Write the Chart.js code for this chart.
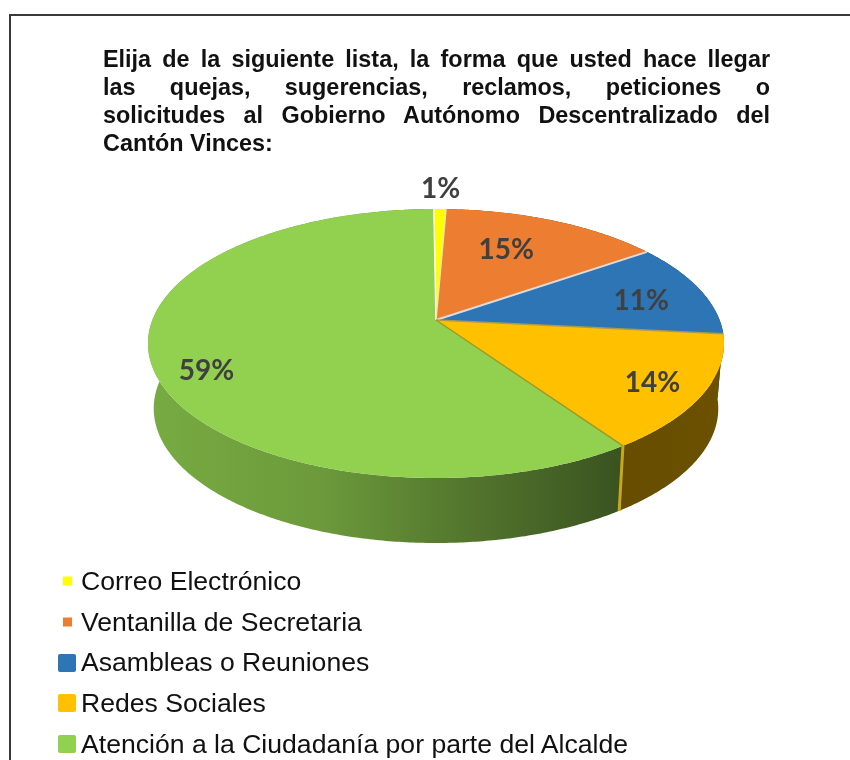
<!DOCTYPE html>
<html lang="es">
<head>
<meta charset="utf-8">
<title>Quejas y sugerencias</title>
<script src="https://cdn.jsdelivr.net/npm/chart.js@4"></script>
<style>
  html, body { margin: 0; padding: 0; background: #fff; width: 850px; height: 760px; overflow: hidden; }
  #frame { position: absolute; left: 9px; top: 14px; width: 841px; height: 746px; border-left: 2px solid #3a3a3a; border-top: 2px solid #3a3a3a; }
  #pie { position: absolute; left: 0; top: 0; }
  #titulo { position: absolute; left: 103px; top: 45px; width: 667px; font: bold 23.4px/28px "Liberation Sans", Arial, sans-serif; color: #111; }
  #titulo div { text-align: justify; text-align-last: justify; white-space: nowrap; }
  #titulo div:last-child { text-align-last: left; }
  #leyenda { position: absolute; left: 0; top: 561px; font: 26.6px/40.7px "Liberation Sans", Arial, sans-serif; color: #111; }
  #leyenda div { position: relative; padding-left: 81px; white-space: nowrap; }
  #leyenda i { position: absolute; top: 50%; transform: translateY(-50%); }
  #leyenda i.chico { left: 63px; width: 9px; height: 9px; }
  #leyenda i.grande { left: 58px; width: 18px; height: 18px; border-radius: 2px; }
</style>
</head>
<body>
<div id="frame"></div>
<canvas id="pie" width="850" height="760"></canvas>
<div id="titulo"></div>
<div id="leyenda"></div>
<script>
var titleLines = [
    'Elija de la siguiente lista, la forma que usted hace llegar',
    'las quejas, sugerencias, reclamos, peticiones o',
    'solicitudes al Gobierno Autónomo Descentralizado del',
    'Cantón Vinces:'
];
var categories = ['Correo Electrónico', 'Ventanilla de Secretaria', 'Asambleas o Reuniones', 'Redes Sociales', 'Atención a la Ciudadanía por parte del Alcalde'];
var values = [0.8, 14.6, 11.4, 13.8, 59.4];
var colors = ['#ffff00', '#ed7d31', '#2e75b6', '#ffc000', '#92d050'];
var markers = ['chico', 'chico', 'grande', 'grande', 'grande'];

// label placement inside the tilted disc: radius fraction and turn from the slice middle (degrees)
var labelRadius = [1.23, 0.66, 0.76, 0.83, 0.84];
var labelTurn = [0, -4.2, 2.6, 1.1, -8];

// perspective of the tilted disc
var persp = { c: -0.1747, sx: 0.9847, sy: 0.4528, depth: 65, shrink: 0.98 };

document.getElementById('titulo').innerHTML = titleLines.map(function (t) { return '<div>' + t + '</div>'; }).join('');
document.getElementById('leyenda').innerHTML = categories.map(function (c, i) {
    return '<div><i class="' + markers[i] + '" style="background:' + colors[i] + '"></i>' + c + '</div>';
}).join('');

function topPoint(arc, frac, angle) {
    var u = frac * Math.cos(angle), v = frac * Math.sin(angle);
    var d = 1 + persp.c * v;
    return { x: arc.x + persp.sx * arc.outerRadius * u / d, y: arc.y + persp.sy * arc.outerRadius * v / d };
}

function bottomPoint(arc, angle) {
    var p = topPoint(arc, 1, angle);
    return { x: arc.x + (p.x - arc.x) * persp.shrink, y: p.y + persp.depth };
}

function shade(hex, f) {
    var n = parseInt(hex.slice(1), 16);
    return 'rgb(' + Math.round((n >> 16) * f) + ',' + Math.round(((n >> 8) & 255) * f) + ',' + Math.round((n & 255) * f) + ')';
}

function sideFill(ctx, arc, color) {
    var R = arc.outerRadius;
    var g = ctx.createLinearGradient(arc.x - R, 0, arc.x + R, 0);
    g.addColorStop(0, shade(color, 0.82));
    g.addColorStop(0.3, shade(color, 0.74));
    g.addColorStop(0.5, shade(color, 0.6));
    g.addColorStop(0.82, shade(color, 0.4));
    g.addColorStop(1, shade(color, 0.42));
    return g;
}

function tracePath(ctx, pts) {
    ctx.beginPath();
    pts.forEach(function (p, i) { if (i) ctx.lineTo(p.x, p.y); else ctx.moveTo(p.x, p.y); });
    ctx.closePath();
}

function sampleAngles(a0, a1) {
    var n = Math.max(2, Math.ceil((a1 - a0) / 0.01)), out = [];
    for (var i = 0; i <= n; i++) out.push(a0 + (a1 - a0) * i / n);
    return out;
}

function edgeLine(ctx, a, b, color, width) {
    ctx.strokeStyle = color;
    ctx.lineWidth = width;
    ctx.beginPath();
    ctx.moveTo(a.x, a.y);
    ctx.lineTo(b.x, b.y);
    ctx.stroke();
}

var tiltedPie = {
    id: 'tiltedPie',
    beforeDatasetsDraw: function (chart) {
        var ctx = chart.ctx;
        var arcs = chart.getDatasetMeta(0).data;
        var centre = { x: arcs[0].x, y: arcs[0].y };
        ctx.save();

        // side wall first, the top disc covers whatever faces backwards
        arcs.forEach(function (arc, i) {
            var angles = sampleAngles(arc.startAngle, arc.endAngle);
            var pts = angles.map(function (a) { return topPoint(arc, 1, a); });
            angles.slice().reverse().forEach(function (a) { pts.push(bottomPoint(arc, a)); });
            tracePath(ctx, pts);
            ctx.fillStyle = sideFill(ctx, arc, colors[i]);
            ctx.fill();
        });

        // cut face where the gold slice meets the green wall
        var gold = arcs[3];
        edgeLine(ctx, topPoint(gold, 1, gold.endAngle), bottomPoint(gold, gold.endAngle), '#c9a61e', 3);

        // top disc
        arcs.forEach(function (arc, i) {
            var pts = sampleAngles(arc.startAngle, arc.endAngle).map(function (a) { return topPoint(arc, 1, a); });
            pts.push(centre);
            tracePath(ctx, pts);
            ctx.fillStyle = colors[i];
            ctx.fill();
        });

        // seams between slices, one for the start edge of each slice
        var seams = ['#ffffff', '#f2e9a0', '#dcdcdc', '#a89a50', '#9c9a22'];
        arcs.forEach(function (arc, i) {
            edgeLine(ctx, centre, topPoint(arc, 1, arc.startAngle), seams[i], i === 2 ? 2 : 1.5);
        });

        // percentage labels
        ctx.font = 'bold 28px Lato, "Open Sans", sans-serif';
        ctx.fillStyle = '#404040';
        ctx.textAlign = 'center';
        ctx.textBaseline = 'middle';
        arcs.forEach(function (arc, i) {
            var mid = (arc.startAngle + arc.endAngle) / 2 + labelTurn[i] * Math.PI / 180;
            var p = topPoint(arc, labelRadius[i], mid);
            ctx.fillText(Math.round(values[i]) + '%', p.x, p.y + 1);
        });

        ctx.restore();
        return false;
    }
};

var ctx = document.getElementById('pie').getContext('2d');
var myChart = new Chart(ctx, {
    type: 'pie',
    data: {
        labels: categories,
        datasets: [{
            data: values,
            backgroundColor: colors,
            borderWidth: 0
        }]
    },
    options: {
        responsive: false,
        animation: false,
        radius: 288,
        rotation: -0.5,
        layout: { padding: { left: 22, right: 0, top: 0, bottom: 120 } },
        plugins: {
            legend: { display: false },
            tooltip: { enabled: false }
        }
    },
    plugins: [tiltedPie]
});
</script>
</body>
</html>
